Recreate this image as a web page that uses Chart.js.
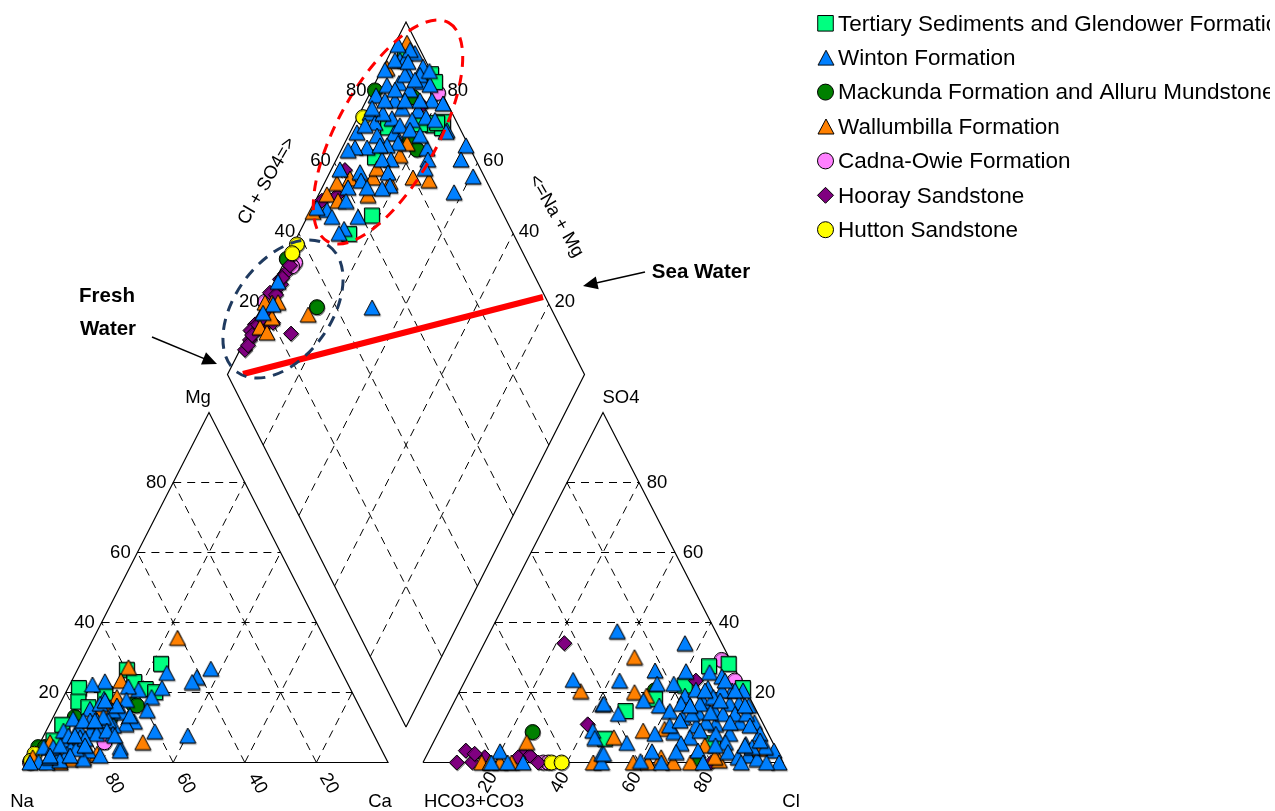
<!DOCTYPE html>
<html>
<head>
<meta charset="utf-8">
<title>Piper diagram</title>
<script src="https://cdn.jsdelivr.net/npm/chart.js@4"></script>
<style>
  html, body { margin: 0; padding: 0; background: #fff; overflow: hidden; }
  canvas { display: block; }
</style>
</head>
<body>
<canvas id="piperCanvas" width="1275" height="811"></canvas>
<script>
// Piper diagram of groundwater samples (percent)
const tickValues = [20, 40, 60, 80];

// cation triangle: [Ca, Mg]
const tertiaryCation = [[22.5,28.2],[13.8,26.5],[17.6,23],[21.8,21],[3,21.3],[4.8,17.4],[3.6,10.8],[3.4,6.3],[11.2,19.6],[24.9,20.1],[8.4,15.8]];
const wintonCation = [[37.1,26.8],[34.4,24.4],[33.8,23],[40.2,7.7],[25.4,25.6],[26.2,21.3],[30.4,8.9],[24.6,18.7],[25.3,14.9],[23.3,11.7],[21.3,11],[23,4.4],[19.9,20.8],[16.6,21.7],[18,17.9],[18.4,14.4],[18,10.6],[15.6,14.9],[9.3,23.2],[11.6,18.2],[6.3,22.3],[9.1,15.3],[11.2,16.8],[12.7,12],[12.4,9.1],[8.5,10.1],[5.8,12.5],[6.5,5.8],[14.6,3.4],[14.4,1],[1.6,4.4],[2.3,0.2],[0,0],[7.2,1.5],[9.4,4.4],[10.4,7.2],[14.5,10.1],[15.9,12],[16.1,16.3],[4.8,9.1],[4.3,4.4],[4.7,0],[9,2.5],[10.8,12],[14,13],[19.1,8.2],[8.9,12],[8,0.6],[4.8,1.5],[11,3.9],[14.5,8.2],[6.9,7.7],[12,6.8],[16.9,9.1],[6,4.9],[8.7,7.7],[12.1,12],[12.1,17.7],[12.9,4.9],[4.6,2],[10.2,2],[19.8,7.7],[21.2,13.4],[18.6,2],[23.5,3.4]];
const mackundaCation = [[20.5,16.6],[21.7,16.3],[6,13],[0.1,4.4],[2,4.4],[16.1,12.5]];
const wallumbillaCation = [[23.4,35.6],[13.9,27.2],[13.7,23.4],[14.9,18.7],[28.6,5.8],[17.5,2.5],[8.4,0],[12.4,14.4],[14.2,1.5],[2.7,5.8],[14.4,15.8],[0,1.5],[10.7,1]];
const cadnaCation = [[17.9,5.8],[0,0],[0,0.6]];
const hoorayCation = [[0,0.3],[1,0.5]];
const huttonCation = [[0,2.5],[0,0.5]];

// anion triangle: [Cl, SO4]
const tertiaryAnion = [[48.9,14.7],[65.7,27.5],[70.8,28.2],[78.2,21.3],[77.8,5.5],[47.1,6.8],[61.7,22],[55.3,18.2]];
const wintonAnion = [[29.9,23.6],[41.6,16.6],[19.8,3.2],[19,0],[23.5,0],[27.8,0],[42.6,9.1],[44.2,7],[48.4,2.5],[49.6,0],[35.2,37.5],[55.7,34.1],[51.3,26.3],[60,26.1],[42.9,23.4],[53.8,22.5],[58.4,22.5],[52.4,17.7],[47.3,13.9],[41.8,16.8],[57.5,16.3],[61.2,14.7],[63.2,19.1],[63.3,16.8],[65.4,20.8],[66.7,25.8],[70.7,24.6],[68.5,21.3],[75.6,20.6],[78.6,20.6],[79.3,17],[82.3,16.3],[76.8,16.8],[73.4,15],[69,17.5],[72.8,20.6],[69.2,14.4],[65.7,12.8],[70.6,10.6],[75.8,11],[82.2,11.5],[86.3,11.5],[89.5,8.2],[81.1,8.2],[77.2,8.2],[72.9,11.5],[70.5,7.2],[65.3,8.7],[60.3,8.2],[63.2,10.6],[68.9,5.5],[62,3.2],[68.8,3],[74.7,3.4],[81.1,5.8],[83.2,3],[87,5.3],[89.3,2],[86.8,1.5],[92.3,1],[95.8,3.4],[98.9,0],[95.4,0],[88.4,0],[77.8,0],[66.2,0],[60.2,0.4],[53.8,5.6],[48.9,2.5],[71.3,18.7],[79.7,13.9],[76.4,13.9],[82.9,13.9],[67.7,13.9],[68.5,16.8],[92.9,4.4],[89.2,4.4],[68,20.6],[73.7,17.7],[76.4,20.6],[81.3,16.3],[72.2,23.4],[72.7,14.3],[66,16.3],[65.4,12],[72.4,9.1],[79.6,11.4],[85.5,10.6],[90.5,6.3],[87,4.9],[78.8,4.9]];
const mackundaAnion = [[26.1,8.7],[75.7,0.6],[89.7,3.4],[54.1,20.6]];
const wallumbillaAnion = [[33.6,20.4],[25.9,5.8],[16.3,0],[18.6,0],[21.4,0],[24.6,0],[47.3,0],[43.7,30.1],[48.7,20.1],[52.5,19.1],[56.6,9.1],[49.4,7.2],[58.4,0],[62.5,0],[65.4,1.5],[69.5,0],[74.3,0],[82,0.6],[75.8,4.9],[80.3,1.5],[62.3,9.6],[91.6,3.9]];
const cadnaAnion = [[68.3,29.3],[74.9,23.4],[33.4,0],[34.8,0]];
const hoorayAnion = [[22.2,34.1],[40.3,10.9],[10.2,3.4],[9.4,0],[13.6,0.1],[16.4,1.5],[13.1,2.5],[26.5,2.5],[28.7,2],[32,0],[25.7,1.5],[64.1,23.4],[80.1,0]];
const huttonAnion = [[35.7,0],[38.5,0]];

// diamond: [Cl + SO4, Na + Mg]
const tertiaryDiamond = [[63,82.1],[54,85.9],[72.1,89.5],[92.9,77.8],[95,74.9],[89.4,81.6],[95.3,95.9],[99.6,85.6],[99.6,83.4],[96.2,75.5],[94.4,77],[80,90.1]];
const wintonDiamond = [[98.1,93.1],[98.4,88.9],[93.3,92.2],[89.4,93.3],[96,87],[81.2,98],[82.4,90.3],[86.7,88.9],[90.8,84.1],[96.2,81.6],[92.1,80.9],[98.8,78.1],[77,97.2],[70.6,98.1],[77,94.4],[81.3,87.4],[96.1,73.2],[85.7,96.4],[92.9,96.3],[94.3,94.9],[92.8,85],[80.6,93.5],[97.2,94.9],[96.4,88.6],[85.8,92],[91.5,89.3],[92.2,92.8],[91.5,97.7],[75.8,92],[80.8,87.6],[80.6,85.1],[77.2,87.8],[71.3,93.1],[67.9,96.5],[65.6,98],[88,76.2],[95.6,73.2],[86.6,74.4],[99.3,65.7],[95.9,65.1],[96.9,59.3],[89.3,62.4],[60.6,97.6],[65.8,91.6],[64.9,90.1],[76.3,84.7],[73.8,87.2],[73.6,83.7],[72.3,81.3],[69.7,83.1],[65.6,87.4],[60.3,92.8],[57.8,91.4],[58.9,85.8],[53.3,88],[51.3,88.8],[51.2,95.5],[48.7,98.6],[51.6,93.1],[84.6,73.9],[50,69],[27.3,99],[22.7,97.2],[18.7,98.8],[87.3,99.1],[87.3,93.5],[94.3,89.3],[97.8,84.4],[88.6,89.2],[83,94.8],[87.8,84.4],[83.6,87.1],[78.3,97.3],[73.9,96.8],[75.2,89.8],[85.8,83.6],[87.9,80],[94.2,78],[99.6,86.5],[94.5,99],[94.9,93.8]];
const mackundaDiamond = [[81.6,99],[91.3,87.4],[84.3,82.1],[85,78.8],[34.6,84.5],[33,99.8]];
const wallumbillaDiamond = [[97.3,96.8],[88.1,98.8],[79.9,76],[84,71.1],[79.4,82.8],[83.1,82.5],[68.7,87.2],[64.8,86.1],[62.1,93.5],[57.8,96.5],[53.4,97.7],[55.6,93.7],[72.8,81.8],[71.1,87.4],[47,99.1],[31.1,85.9],[15.8,97.6],[17,94.9],[22.7,97.7],[24.4,96.1],[20.7,99.7],[20.5,95.6]];
const cadnaDiamond = [[34.8,97],[33.4,97.3],[20.8,99.8],[98.9,81]];
const hoorayDiamond = [[8.4,98.6],[11.2,98.6],[13.8,98.4],[30.4,98.2],[28.2,98.8],[24.9,98.3],[23.5,99.7],[23.6,88],[20.1,94.6],[14.8,99.4],[16.6,96.7],[61.9,96.1],[56.1,94.7],[51.1,98.2],[92.7,83.7],[12.7,99.8],[20.3,98.2],[27.8,97.8],[9.9,98.4],[12.5,98.7],[15.6,98.5],[17.7,98.3],[20.5,97.8],[24.9,97.7],[29,98.4],[33,98]];
const huttonDiamond = [[37.9,99],[35.3,99.1],[74.5,98.5]];

const seriesNames = ['Tertiary Sediments and Glendower Formation', 'Winton Formation', 'Mackunda Formation and Alluru Mundstone', 'Wallumbilla Formation', 'Cadna-Owie Formation', 'Hooray Sandstone', 'Hutton Sandstone'];
const seriesColors = ['#00FF80', '#0080FF', '#008000', '#FF8000', '#FF80FF', '#800080', '#FFFF00'];
const seriesStyles = ['rect', 'triangle', 'circle', 'triangle', 'circle', 'rectRot', 'circle'];
const seriesRadius = [10.6, 8, 7.5, 8, 7.5, 7.5, 7.5];
const drawOrder = [4, 0, 5, 1, 6, 3, 2]; // lowest is painted last
const cationSets = [tertiaryCation, wintonCation, mackundaCation, wallumbillaCation, cadnaCation, hoorayCation, huttonCation];
const anionSets = [tertiaryAnion, wintonAnion, mackundaAnion, wallumbillaAnion, cadnaAnion, hoorayAnion, huttonAnion];
const diamondSets = [tertiaryDiamond, wintonDiamond, mackundaDiamond, wallumbillaDiamond, cadnaDiamond, hoorayDiamond, huttonDiamond];

// percent -> position on the sheet, the linear scales below do the rest
const cationPoint = ([ca, mg]) => ({ x: 30 + 3.58 * (ca + mg / 2), y: 762.5 - 3.5 * mg });
const anionPoint = ([cl, so4]) => ({ x: 423 + 3.6 * (cl + so4 / 2), y: 762.5 - 3.5 * so4 });
const diamondPoint = ([a, b]) => ({ x: 406 + 1.785 * (a - b), y: 727 - 3.525 * (a + b) });

// triangle marker as a sprite so it sits centred like the original
function triangleSprite(fill, w, h) {
  const c = document.createElement('canvas');
  c.width = w + 2; c.height = h + 2;
  const g = c.getContext('2d');
  g.beginPath();
  g.moveTo(c.width / 2, 1);
  g.lineTo(w + 1, h + 1);
  g.lineTo(1, h + 1);
  g.closePath();
  g.fillStyle = fill;
  g.fill();
  g.strokeStyle = '#000';
  g.lineWidth = 1;
  g.stroke();
  return c;
}

const datasets = [];

function addLine(points, dashed, width) {
  datasets.push({
    data: points, showLine: true, pointRadius: 0, borderColor: '#000',
    borderWidth: width || 1, borderDash: dashed ? [8, 6] : [], order: 20, fill: false
  });
}

// dashed grids
[cationPoint, anionPoint].forEach(function(tri) {
  tickValues.forEach(function(t) {
    addLine([tri([0, t]), tri([100 - t, t])], true);
    addLine([tri([t, 0]), tri([t, 100 - t])], true);
    addLine([tri([100 - t, 0]), tri([0, 100 - t])], true);
  });
  addLine([tri([0, 0]), tri([100, 0]), tri([0, 100]), tri([0, 0])], false, 1.2);
});
tickValues.forEach(function(t) {
  addLine([diamondPoint([t, 0]), diamondPoint([t, 100])], true);
  addLine([diamondPoint([0, t]), diamondPoint([100, t])], true);
});
addLine([diamondPoint([0, 0]), diamondPoint([100, 0]), diamondPoint([100, 100]), diamondPoint([0, 100]), diamondPoint([0, 0])], false, 1.2);

// samples, one dataset per formation
seriesNames.forEach(function(name, i) {
  const points = cationSets[i].map(cationPoint)
    .concat(anionSets[i].map(anionPoint))
    .concat(diamondSets[i].map(diamondPoint));
  datasets.push({
    label: name,
    data: points,
    order: drawOrder[i] + 1,
    isSample: true,
    pointStyle: seriesStyles[i] === 'triangle' ? triangleSprite(seriesColors[i], 16, 15) : seriesStyles[i],
    pointRadius: seriesRadius[i],
    pointBackgroundColor: seriesColors[i],
    pointBorderColor: '#000',
    pointBorderWidth: 1
  });
});

// sea water line
datasets.push({
  data: [{ x: 243, y: 374 }, { x: 543, y: 297 }], showLine: true, pointRadius: 0,
  borderColor: '#FF0000', borderWidth: 6, order: 0
});

function label(ctx, text, x, y, size, rotation, bold) {
  ctx.save();
  ctx.translate(x, y);
  ctx.rotate((rotation || 0) * Math.PI / 180);
  ctx.font = (bold ? 'bold ' : '') + size + 'px "Liberation Sans", Arial, sans-serif';
  ctx.fillStyle = '#000';
  ctx.textAlign = 'center';
  ctx.textBaseline = 'middle';
  ctx.fillText(text, 0, 0);
  ctx.restore();
}

function arrow(ctx, x1, y1, x2, y2) {
  const a = Math.atan2(y2 - y1, x2 - x1);
  ctx.save();
  ctx.strokeStyle = '#000';
  ctx.fillStyle = '#000';
  ctx.lineWidth = 1.5;
  ctx.beginPath();
  ctx.moveTo(x1, y1);
  ctx.lineTo(x2 - 10 * Math.cos(a), y2 - 10 * Math.sin(a));
  ctx.stroke();
  ctx.beginPath();
  ctx.moveTo(x2, y2);
  ctx.lineTo(x2 - 16 * Math.cos(a - 0.42), y2 - 16 * Math.sin(a - 0.42));
  ctx.lineTo(x2 - 16 * Math.cos(a + 0.42), y2 - 16 * Math.sin(a + 0.42));
  ctx.closePath();
  ctx.fill();
  ctx.restore();
}

function ellipse(ctx, cx, cy, rx, ry, angle, color) {
  ctx.save();
  ctx.strokeStyle = color;
  ctx.lineWidth = 3;
  ctx.setLineDash([11, 8]);
  ctx.beginPath();
  ctx.ellipse(cx, cy, rx, ry, angle * Math.PI / 180, 0, Math.PI * 2);
  ctx.stroke();
  ctx.restore();
}

const markerShadow = {
  id: 'markerShadow',
  beforeDatasetDraw(chart, args) {
    if (!chart.data.datasets[args.index].isSample) return;
    const ctx = chart.ctx;
    ctx.save();
    ctx.shadowColor = 'rgba(0,0,0,0.35)';
    ctx.shadowOffsetX = 0.7;
    ctx.shadowOffsetY = 1.2;
  },
  afterDatasetDraw(chart, args) {
    if (chart.data.datasets[args.index].isSample) chart.ctx.restore();
  }
};

const piperText = {
  id: 'piperText',
  afterDatasetsDraw(chart) {
    const ctx = chart.ctx;
    const xs = chart.scales.x, ys = chart.scales.y;
    const text = (s, x, y, size, rot, bold) => label(ctx, s, xs.getPixelForValue(x), ys.getPixelForValue(y), size, rot, bold);

    ellipse(ctx, 388, 132, 125, 50, -61, '#FF0000');
    ellipse(ctx, 283, 309, 78, 48, -54, '#1F3A5F');

    tickValues.forEach(function(t) {
      let p = cationPoint([0, t]);
      text(String(t), p.x - 17, p.y, 18.5);
      p = anionPoint([100 - t, t]);
      text(String(t), p.x + 18, p.y, 18.5);
      p = cationPoint([100 - t, 0]);
      text(String(t), p.x + 12.5, p.y + 21, 18.5, 60);
      p = anionPoint([t, 0]);
      text(String(t), p.x - 7, p.y + 20, 18.5, -60);
      p = diamondPoint([t, 100]);
      text(String(t), p.x - 14, p.y - 2, 18.5);
      p = diamondPoint([100, t]);
      text(String(t), p.x + 16, p.y - 2, 18.5);
    });

    text('Mg', 198, 398, 18.5);
    text('SO4', 621, 398, 18.5);
    text('Na', 22, 802, 18.5);
    text('Ca', 380, 802, 18.5);
    text('HCO3+CO3', 474, 802, 18.5);
    text('Cl', 791, 802, 18.5);
    text('Cl + SO4=>', 267, 181, 18.5, -60);
    text('<=Na + Mg', 556, 216, 18.5, 60);
    text('Fresh', 107, 296, 20.5, 0, true);
    text('Water', 108, 329, 20.5, 0, true);
    text('Sea Water', 701, 272, 20.5, 0, true);

    arrow(ctx, 152, 337, 217, 364);
    arrow(ctx, 645, 272, 583, 286);

    // legend, the long names run off the figure edge at 1270 as in the source
    ctx.save();
    ctx.beginPath();
    ctx.rect(800, 0, 470, 260);
    ctx.clip();
    seriesNames.forEach(function(name, i) {
      const y = 23.3 + i * 34.4;
      if (seriesStyles[i] === 'triangle') {
        ctx.drawImage(triangleSprite(seriesColors[i], 16, 15), 817, y - 8.5);
      } else {
        ctx.save();
        ctx.fillStyle = seriesColors[i];
        ctx.strokeStyle = '#000';
        ctx.lineWidth = 1;
        Chart.helpers.drawPoint(ctx, { pointStyle: seriesStyles[i], rotation: 0, radius: seriesStyles[i] === 'rect' ? 11 : 8, borderWidth: 1 }, 825.5, y);
        ctx.restore();
      }
      ctx.save();
      ctx.font = '22.5px "Liberation Sans", Arial, sans-serif';
      ctx.fillStyle = '#000';
      ctx.textBaseline = 'middle';
      ctx.fillText(name, 838, y + 1);
      ctx.restore();
    });
    ctx.restore();
  }
};

new Chart(document.getElementById('piperCanvas').getContext('2d'), {
  type: 'scatter',
  data: { datasets: datasets },
  plugins: [markerShadow, piperText],
  options: {
    responsive: false,
    animation: false,
    layout: { padding: 0, autoPadding: false },
    plugins: { legend: { display: false }, tooltip: { enabled: false } },
    scales: {
      x: { type: 'linear', display: false, min: 0, max: 1275 },
      y: { type: 'linear', display: false, min: 0, max: 811, reverse: true }
    }
  }
});
</script>
</body>
</html>
